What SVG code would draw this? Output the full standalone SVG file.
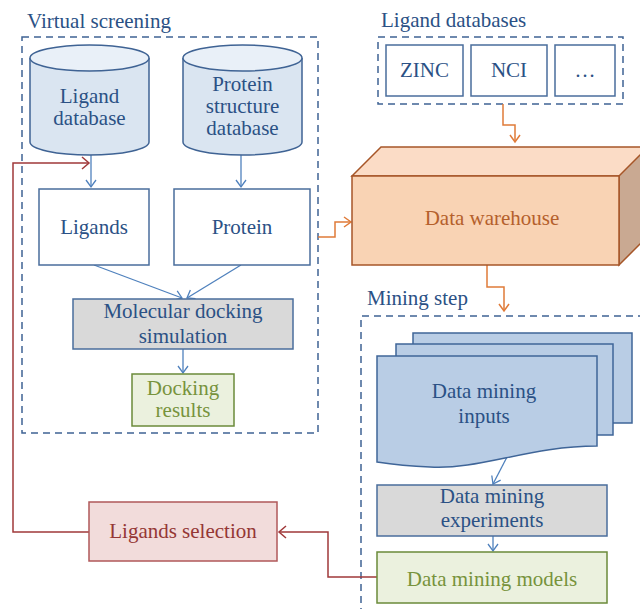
<svg xmlns="http://www.w3.org/2000/svg" width="640" height="609" viewBox="0 0 640 609" font-family="'Liberation Serif', 'DejaVu Serif', serif">
<defs>
<style>
text{font-family:'Liberation Serif','DejaVu Serif',serif;font-size:21px;text-anchor:middle}
.t{fill:#2b5185}
.title{fill:#2b5185;font-size:21px;text-anchor:start}
.dash{fill:none;stroke:#3f6394;stroke-width:1.5;stroke-dasharray:7,5}
.bx{fill:#ffffff;stroke:#4a6d9c;stroke-width:1.5}
.gray{fill:#d9d9d9;stroke:#4a6d9c;stroke-width:1.5}
.green{fill:#ebf1de;stroke:#6b8a3a;stroke-width:1.5}
.gt{fill:#77933c}
.red{fill:#f2dcdb;stroke:#b0585a;stroke-width:1.5}
.rt{fill:#953735}
.cyl{fill:#dae5f1;stroke:#3f6394;stroke-width:1.5}
.cyltop{fill:#e9f0f8;stroke:#3f6394;stroke-width:1.5}
.doc{fill:#b9cde5;stroke:#3f6598;stroke-width:1.5}
.wh{stroke:#a65628;stroke-width:1.5}
.ot{fill:#b5602c}
.cb{fill:none;stroke:#4f81bd;stroke-width:1.3}
.co{fill:none;stroke:#e07b39;stroke-width:1.5}
.cr{fill:none;stroke:#a0393a;stroke-width:1.5}
</style>
<marker id="ab" markerWidth="10" markerHeight="12" refX="8" refY="6" orient="auto" markerUnits="userSpaceOnUse"><path d="M1,1 L8,6 L1,11" fill="none" stroke="#4f81bd" stroke-width="1.3"/></marker>
<marker id="ao" markerWidth="10" markerHeight="12" refX="8" refY="6" orient="auto" markerUnits="userSpaceOnUse"><path d="M1,1 L8,6 L1,11" fill="none" stroke="#e07b39" stroke-width="1.5"/></marker>
<marker id="ar" markerWidth="10" markerHeight="14" refX="8" refY="7" orient="auto" markerUnits="userSpaceOnUse"><path d="M1,1 L8,7 L1,13" fill="none" stroke="#a0393a" stroke-width="1.5"/></marker>
</defs>
<rect width="640" height="609" fill="#ffffff"/>

<g id="virtual-screening">
<rect class="dash" x="22" y="37" width="296" height="396"/>
<text class="title" x="27" y="28">Virtual screening</text>
</g>
<g id="ligand-databases">
<rect class="dash" x="378" y="37" width="245" height="67"/>
<text class="title" x="381" y="27">Ligand databases</text>
</g>
<g id="mining-step">
<path class="dash" d="M645,316 L361,316 L361,615"/>
<text class="title" x="367" y="305">Mining step</text>
</g>

<g id="connectors">
<line class="cb" x1="91" y1="155" x2="91" y2="187" marker-end="url(#ab)"/>
<line class="cb" x1="241" y1="155" x2="241" y2="187" marker-end="url(#ab)"/>
<line class="cb" x1="94" y1="265" x2="182" y2="298" marker-end="url(#ab)"/>
<line class="cb" x1="241" y1="265" x2="187" y2="298" marker-end="url(#ab)"/>
<line class="cb" x1="183" y1="349" x2="183" y2="373" marker-end="url(#ab)"/>
<line class="cb" x1="507" y1="457" x2="493" y2="484" marker-end="url(#ab)"/>
<line class="cb" x1="493" y1="536" x2="493" y2="551" marker-end="url(#ab)"/>
<polyline class="co" points="503,104 503,125 515,125 515,142" marker-end="url(#ao)"/>
<polyline class="co" points="318,237 335,237 335,222 351,222" marker-end="url(#ao)"/>
<polyline class="co" points="487,265 487,287 504,287 504,311" marker-end="url(#ao)"/>
<polyline class="cr" points="378,577 328,577 328,532 279,532" marker-end="url(#ar)"/>
<polyline class="cr" points="89,532 13,532 13,163 89,163" marker-end="url(#ar)"/>
</g>

<g id="ligand-database">
<path class="cyl" d="M30,58 L30,142 A59.5,13 0 0,0 149,142 L149,58"/>
<ellipse class="cyltop" cx="89.5" cy="58" rx="59.5" ry="13"/>
<text class="t" x="89.5" y="103">Ligand</text>
<text class="t" x="89.5" y="125">database</text>
</g>
<g id="protein-structure-database">
<path class="cyl" d="M183,58 L183,142 A59.5,13 0 0,0 302,142 L302,58"/>
<ellipse class="cyltop" cx="242.5" cy="58" rx="59.5" ry="13"/>
<text class="t" x="242.5" y="91">Protein</text>
<text class="t" x="242.5" y="113">structure</text>
<text class="t" x="242.5" y="135">database</text>
</g>
<g id="ligands">
<rect class="bx" x="39" y="189" width="110" height="76"/>
<text class="t" x="94" y="234">Ligands</text>
</g>
<g id="protein">
<rect class="bx" x="174" y="189" width="136" height="76"/>
<text class="t" x="242" y="234">Protein</text>
</g>
<g id="molecular-docking">
<rect class="gray" x="73" y="299" width="220" height="50"/>
<text class="t" x="183" y="318">Molecular docking</text>
<text class="t" x="183" y="343">simulation</text>
</g>
<g id="docking-results">
<rect class="green" x="132" y="374" width="102" height="52"/>
<text class="gt" x="183" y="395">Docking</text>
<text class="gt" x="183" y="417">results</text>
</g>

<g id="zinc">
<rect class="bx" x="386" y="45" width="77" height="51"/>
<text class="t" x="424.5" y="77">ZINC</text>
</g>
<g id="nci">
<rect class="bx" x="471" y="45" width="76" height="51"/>
<text class="t" x="509" y="77">NCI</text>
</g>
<g id="more">
<rect class="bx" x="555" y="45" width="60" height="51"/>
<text class="t" x="585" y="77">…</text>
</g>

<g id="data-warehouse">
<polygon class="wh" fill="#fbdcc6" points="352,176 381,147 650,147 621,176"/>
<polygon class="wh" fill="#c9a992" points="619,176 648,147 648,236 619,265"/>
<rect class="wh" fill="#f9d3b4" x="352" y="176" width="267" height="89"/>
<text class="ot" x="492" y="225">Data warehouse</text>
</g>

<g id="data-mining-inputs">
<rect class="doc" x="413" y="333" width="219" height="90"/>
<rect class="doc" x="396" y="344" width="217" height="91"/>
<path class="doc" d="M377,356 L597,356 L597,446 C530,446 480,470 430,467 C405,466 390,464 377,462 Z"/>
<text class="t" x="484" y="398">Data mining</text>
<text class="t" x="484" y="423">inputs</text>
</g>
<g id="data-mining-experiments">
<rect class="gray" x="377" y="485" width="230" height="51"/>
<text class="t" x="492" y="503">Data mining</text>
<text class="t" x="492" y="527">experiments</text>
</g>
<g id="data-mining-models">
<rect class="green" x="377" y="552" width="230" height="51"/>
<text class="gt" x="492" y="586">Data mining models</text>
</g>
<g id="ligands-selection">
<rect class="red" x="89" y="502" width="188" height="59"/>
<text class="rt" x="183" y="538">Ligands selection</text>
</g>
</svg>
